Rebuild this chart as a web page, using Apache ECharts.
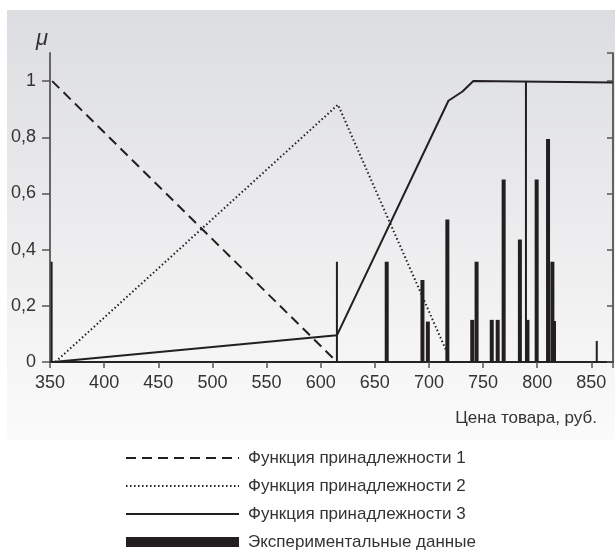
<!DOCTYPE html>
<html>
<head>
<meta charset="utf-8">
<script src="https://cdn.jsdelivr.net/npm/echarts@6/dist/echarts.min.js"></script>
<style>html,body{margin:0;padding:0;background:#fff;}#c{width:615px;height:558px;}</style>
</head>
<body>
<div id="c"></div>
<script>
// ---- data ----
const seriesNames = ['Функция принадлежности 1', 'Функция принадлежности 2', 'Функция принадлежности 3', 'Экспериментальные данные'];
const xTitle = 'Цена товара, руб.';
const yTitle = 'μ';

const f1X = [352, 615];
const f1Y = [1.0, 0];
const f2X = [355, 616, 716];
const f2Y = [0, 0.916, 0.04];
const f3X = [353, 615, 718, 731, 741, 870];
const f3Y = [0, 0.095, 0.93, 0.963, 1.0, 0.995];

// experimental data (wide bars)
const expX = [661, 694, 699, 717, 740, 744, 758, 763.5, 769, 784, 791, 799.5, 810, 814, 815.5];
const expY = [0.357, 0.292, 0.144, 0.507, 0.15, 0.357, 0.15, 0.15, 0.65, 0.436, 0.15, 0.65, 0.794, 0.357, 0.146];
// experimental data (thin bars)
const expThinX = [351.5, 615, 789.6, 855];
const expThinY = [0.357, 0.357, 1.0, 0.075];

const xMin = 350, xMax = 870, xStep = 50;
const yMin = 0, yMax = 1.1, yStep = 0.2;

// ---- chart ----
const FONT = '"Liberation Sans Narrow", "Liberation Sans", Arial, sans-serif';
const INK = '#231f20';
const pairs = (xs, ys) => xs.map((x, i) => [x, ys[i]]);
const yFmt = v => (Math.abs(v) < 1e-9 ? '0' : String(+v.toFixed(1)).replace('.', ','));
const hideSym = {color: 'rgba(0,0,0,0)', borderColor: 'rgba(0,0,0,0)', borderWidth: 0};

const chart = echarts.init(document.getElementById('c'), null, {renderer: 'canvas'});
chart.setOption({
  animation: false,
  backgroundColor: '#ffffff',
  graphic: [{
    type: 'rect', z: -10, silent: true,
    shape: {x: 7, y: 10, width: 608, height: 430},
    style: {fill: new echarts.graphic.LinearGradient(0, 0, 0, 1, [
      {offset: 0, color: '#dcdde0'}, {offset: 1, color: '#fbfbfb'}])}
  }],
  grid: {left: 50, top: 53, width: 563, height: 309, containLabel: false, outerBoundsMode: 'none'},
  legend: {
    orient: 'vertical', left: 125, top: 448, padding: 0,
    itemWidth: 113, itemHeight: 10, itemGap: 8,
    data: [
      {name: seriesNames[0], itemStyle: hideSym},
      {name: seriesNames[1], itemStyle: hideSym},
      {name: seriesNames[2], itemStyle: hideSym},
      {name: seriesNames[3], icon: 'rect'}
    ],
    textStyle: {fontFamily: FONT, fontSize: 17, color: '#333', lineHeight: 20, padding: [0, 0, 0, 4]}
  },
  xAxis: [{
    type: 'value', min: xMin, max: xMax, interval: xStep, position: 'bottom',
    name: xTitle, nameLocation: 'end', nameGap: -16,
    nameTextStyle: {fontFamily: FONT, fontSize: 17, color: '#333', align: 'right', verticalAlign: 'top', padding: [48, 0, 0, 0]},
    axisLine: {lineStyle: {color: '#333', width: 1.5}},
    axisTick: {length: 6, lineStyle: {color: '#555', width: 1.5}},
    axisLabel: {fontFamily: FONT, fontSize: 18, color: '#333', margin: 12, showMaxLabel: false},
    splitLine: {show: false}
  }, {
    type: 'value', min: xMin, max: xMax, interval: xStep, position: 'top',
    axisLine: {lineStyle: {color: '#111', width: 1.5}},
    axisTick: {inside: true, length: 6, lineStyle: {color: '#555', width: 1.5}},
    axisLabel: {show: false}, splitLine: {show: false}
  }],
  yAxis: [{
    type: 'value', min: yMin, max: yMax, interval: yStep, position: 'left',
    name: yTitle, nameLocation: 'end', nameGap: 3,
    nameTextStyle: {fontFamily: FONT, fontSize: 22, fontStyle: 'italic', color: '#333', align: 'center', padding: [0, 16, 0, 0]},
    axisLine: {lineStyle: {color: '#666', width: 2}},
    axisTick: {length: 8, lineStyle: {color: '#555', width: 1.5}},
    axisLabel: {fontFamily: FONT, fontSize: 18, color: '#333', margin: 14, showMaxLabel: false, formatter: yFmt},
    splitLine: {show: false}
  }, {
    type: 'value', min: yMin, max: yMax, interval: yStep, position: 'right',
    axisLine: {lineStyle: {color: '#333', width: 1.5}},
    axisTick: {inside: true, length: 6, lineStyle: {color: '#555', width: 1.5}},
    axisLabel: {show: false}, splitLine: {show: false}
  }],
  series: [{
    name: seriesNames[0], type: 'line', symbol: 'none', showSymbol: false,
    data: pairs(f1X, f1Y), z: 3,
    lineStyle: {color: INK, width: 2, type: [10, 6]}, itemStyle: {color: INK}
  }, {
    name: seriesNames[1], type: 'line', symbol: 'none', showSymbol: false,
    data: pairs(f2X, f2Y), z: 3,
    lineStyle: {color: INK, width: 2, type: [1.5, 2.5]}, itemStyle: {color: INK}
  }, {
    name: seriesNames[2], type: 'line', symbol: 'none', showSymbol: false,
    data: pairs(f3X, f3Y), z: 3,
    lineStyle: {color: INK, width: 2, type: 'solid'}, itemStyle: {color: INK}
  }, {
    name: seriesNames[3], type: 'bar', xAxisIndex: 0, yAxisIndex: 0,
    barWidth: 4, data: pairs(expX, expY), z: 2,
    itemStyle: {color: INK}
  }, {
    name: seriesNames[3], type: 'bar', xAxisIndex: 1, yAxisIndex: 0,
    barWidth: 2, data: pairs(expThinX, expThinY), z: 2,
    itemStyle: {color: INK}
  }]
});
</script>
</body>
</html>
